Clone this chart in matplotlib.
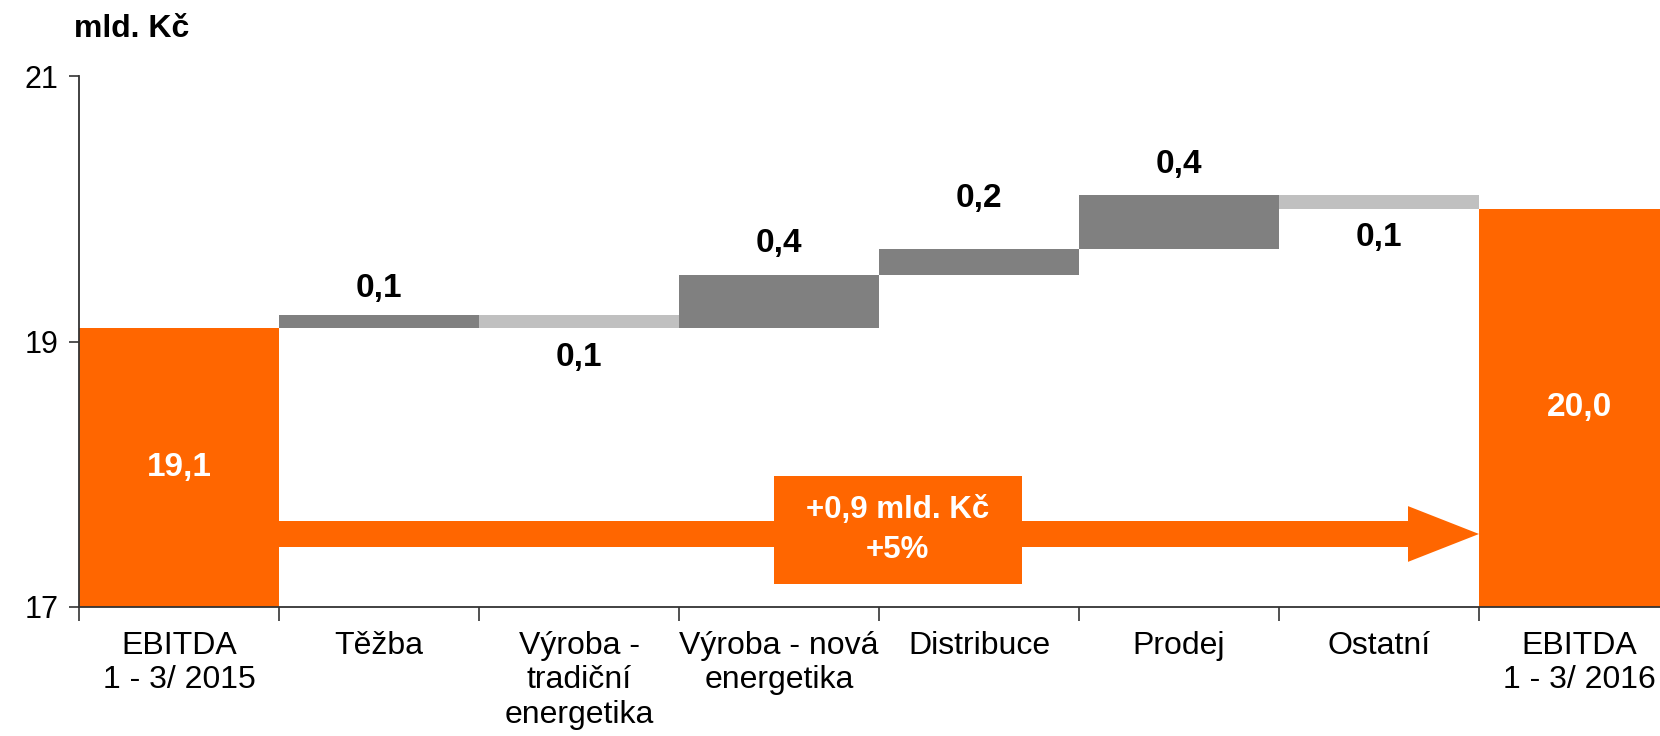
import matplotlib
matplotlib.use('Agg')
import numpy as np
import matplotlib.pyplot as plt
from matplotlib.patches import Rectangle, Polygon

categories = ['EBITDA\n1 - 3/ 2015', 'Těžba', 'Výroba -\ntradiční\nenergetika',
              'Výroba - nová\nenergetika', 'Distribuce', 'Prodej', 'Ostatní',
              'EBITDA\n1 - 3/ 2016']
start_value = 19.1
changes = [0.1, -0.1, 0.4, 0.2, 0.4, -0.1]
end_value = 20.0
total_change_text = '+0,9 mld. Kč\n+5%'
unit_label = 'mld. Kč'
y_ticks = [17, 19, 21]

ORANGE = '#FF6600'
DARK = '#808080'
LIGHT = '#C0C0C0'

plt.rcParams['font.family'] = ['Liberation Sans', 'DejaVu Sans']

fig = plt.figure(figsize=(16.6, 7.36), dpi=100)
ax = fig.add_axes([79 / 1660, 1 - 607 / 736, 1 - 79 / 1660, (607 - 76) / 736])

ymin = y_ticks[0]
x = np.arange(len(categories))

# first and last totals
ax.bar(x[0], start_value - ymin, bottom=ymin, width=1.0, color=ORANGE)
ax.bar(x[-1], end_value - ymin, bottom=ymin, width=1.0, color=ORANGE)
ax.text(x[0], (ymin + start_value) / 2, f'{start_value:.1f}'.replace('.', ','),
        ha='center', va='center', color='white', fontsize=24, fontweight='bold')
ax.text(x[-1], (ymin + end_value) / 2, f'{end_value:.1f}'.replace('.', ','),
        ha='center', va='center', color='white', fontsize=24, fontweight='bold')

# floating steps
level = start_value
label_offset = [0.2, 0.22, 0.24, 0.38, 0.23, 0.22]
for i, ch in enumerate(changes):
    xi = x[i + 1]
    bottom = level if ch > 0 else level + ch
    ax.bar(xi, abs(ch), bottom=bottom, width=1.0, color=DARK if ch > 0 else LIGHT)
    txt = f'{abs(ch):.1f}'.replace('.', ',')
    if ch > 0:
        ax.text(xi, level + ch + label_offset[i], txt, ha='center', va='center',
                fontsize=24, fontweight='bold')
    else:
        ax.text(xi, level + ch - label_offset[i], txt, ha='center', va='center',
                fontsize=24, fontweight='bold')
    level += ch

# big arrow with box
arrow_y = 17.55
shaft = Rectangle((0.5, arrow_y - 0.1), 6.145 - 0.5, 0.2, color=ORANGE, lw=0)
head = Polygon([(6.145, arrow_y + 0.21), (6.5, arrow_y), (6.145, arrow_y - 0.21)],
               closed=True, color=ORANGE, lw=0)
box = Rectangle((2.974, 17.176), 4.213 - 2.974, 17.99 - 17.176, color=ORANGE, lw=0)
for p in (shaft, head, box):
    ax.add_patch(p)
ax.text((2.974 + 4.213) / 2, 17.58, total_change_text, ha='center', va='center',
        color='white', fontsize=22.5, fontweight='bold', linespacing=1.4)

ax.set_xlim(-0.5, (1660 - 79) / 200 - 0.5)
ax.set_ylim(17, 21)
ax.set_yticks(y_ticks)
ax.set_yticklabels([str(t) for t in y_ticks], fontsize=22)
ax.tick_params(axis='y', length=7, width=1.2, pad=8, color='#333333')

ax.set_xticks(x)
ax.set_xticklabels(categories, fontsize=23, linespacing=1.2)
ax.set_xticks(np.arange(len(categories)) - 0.5, minor=True)
ax.tick_params(axis='x', which='major', length=0, pad=17)
ax.tick_params(axis='x', which='minor', length=10, width=1.2, color='#333333')

for s in ('top', 'right'):
    ax.spines[s].set_visible(False)
for s in ('left', 'bottom'):
    ax.spines[s].set_linewidth(1.3)
    ax.spines[s].set_color('#333333')

fig.text(74 / 1660, 1 - 29 / 736, unit_label, ha='left', va='center',
         fontsize=23, fontweight='bold')

fig.savefig('out.png', dpi=100)
